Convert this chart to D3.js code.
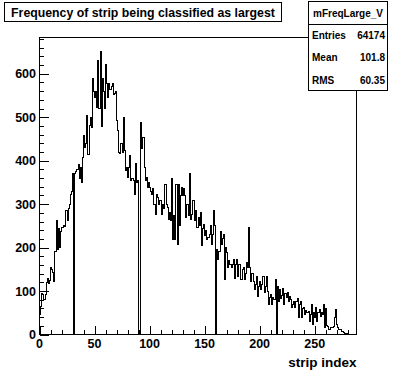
<!DOCTYPE html>
<html>
<head>
<meta charset="utf-8">
<script src="https://cdn.jsdelivr.net/npm/d3@7"></script>
<style>
  html, body { margin: 0; padding: 0; background: #fff; }
  svg { display: block; }
  text { font-family: "Liberation Sans", Arial, Helvetica, sans-serif; font-weight: bold; fill: #000; }
</style>
</head>
<body>
<svg id="chart" width="396" height="372"></svg>
<script>
// histogram contents, one value per strip (bins 0..287)
const stripValues = [
  45, 65, 95, 92, 80, 92, 120, 128, 118, 125,
  155, 150, 142, 123, 192, 262, 196, 245, 200, 238,
  246, 246, 250, 248, 285, 262, 290, 300, 322, 330,
  370, 0, 370, 375, 380, 392, 360, 385, 350, 408,
  458, 430, 440, 505, 415, 480, 500, 477, 590, 560,
  545, 560, 523, 630, 520, 651, 478, 590, 560, 520,
  622, 578, 545, 578, 565, 570, 578, 552, 555, 560,
  493, 470, 420, 416, 440, 418, 500, 424, 377, 385,
  362, 385, 412, 354, 360, 354, 323, 393, 350, 355,
  0, 0, 489, 427, 454, 385, 354, 362, 339, 350,
  339, 330, 323, 335, 300, 277, 323, 315, 300, 308,
  308, 277, 300, 290, 346, 300, 292, 265, 280, 262,
  358, 219, 273, 219, 346, 207, 346, 250, 320, 339,
  320, 335, 320, 270, 300, 275, 370, 265, 277, 308,
  308, 262, 285, 246, 270, 250, 281, 204, 245, 254,
  227, 240, 219, 223, 230, 250, 207, 230, 285, 250,
  0, 196, 173, 190, 238, 207, 220, 231, 127, 200,
  188, 154, 170, 161, 154, 160, 173, 130, 160, 173,
  134, 160, 161, 127, 150, 154, 127, 140, 165, 154,
  246, 154, 123, 140, 123, 103, 115, 134, 88, 110,
  123, 103, 115, 134, 96, 110, 134, 100, 69, 85,
  92, 69, 85, 80, 127, 0, 111, 76, 103, 84,
  90, 106, 69, 95, 85, 96, 76, 88, 80, 61,
  70, 76, 61, 75, 84, 38, 70, 76, 38, 60,
  61, 45, 55, 50, 53, 30, 45, 69, 22, 50,
  40, 61, 30, 50, 57, 42, 50, 45, 69, 15,
  60, 20, 18, 11, 15, 17, 17, 18, 40, 57,
  22, 15, 11, 11, 8, 6, 5, 3, 3, 3,
  2, 1, 1, 0, 0, 0, 0, 0
];

const xTicks = [0, 50, 100, 150, 200, 250];
const yTicks = [0, 100, 200, 300, 400, 500, 600];
const xMinorTicks = d3.range(0, 290, 10);
const yMinorTicks = d3.range(0, 700, 20);

const titleText = 'Frequency of strip being classified as largest';
const xTitle = 'strip index';
const statsName = 'mFreqLarge_V';
const statsRows = [['Entries', '64174'], ['Mean', '101.8'], ['RMS', '60.35']];

const svg = d3.select('#chart');

// frame (pad margins 0.1 on every side)
const frame = { left: 39.5, right: 356.5, top: 37.5, bottom: 334.5 };

const x = d3.scaleLinear().domain([0, stripValues.length]).range([frame.left, frame.right]);
const y = d3.scaleLinear().domain([0, d3.max(stripValues) * 1.05]).range([frame.bottom, frame.top]);

const g = svg.append('g').attr('shape-rendering', 'crispEdges');

// histogram outline
let path = `M${x(0)},${y(0)}`;
stripValues.forEach((v, i) => {
  path += `L${x(i)},${y(v)}L${x(i + 1)},${y(v)}`;
});
path += `L${x(stripValues.length)},${y(0)}`;
g.append('path')
  .attr('d', path)
  .attr('fill', 'none')
  .attr('stroke', '#000')
  .attr('stroke-width', 1);

// frame
g.append('rect')
  .attr('x', frame.left).attr('y', frame.top)
  .attr('width', frame.right - frame.left).attr('height', frame.bottom - frame.top)
  .attr('fill', 'none').attr('stroke', '#000');

// x axis ticks (inside, pointing up)
g.selectAll('.xminor').data(xMinorTicks).enter().append('line')
  .attr('x1', d => Math.round(x(d)) + 0.5).attr('x2', d => Math.round(x(d)) + 0.5)
  .attr('y1', frame.bottom).attr('y2', d => frame.bottom - (xTicks.includes(d) ? 9 : 4.5))
  .attr('stroke', '#000');

// y axis ticks (inside, pointing right)
g.selectAll('.yminor').data(yMinorTicks.filter(d => y(d) >= frame.top - 0.5)).enter().append('line')
  .attr('y1', d => Math.round(y(d)) + 0.5).attr('y2', d => Math.round(y(d)) + 0.5)
  .attr('x1', frame.left).attr('x2', d => frame.left + (yTicks.includes(d) ? 9.5 : 4.75))
  .attr('stroke', '#000');

// tick labels
svg.selectAll('.xlab').data(xTicks).enter().append('text')
  .attr('x', d => x(d)).attr('y', 348)
  .attr('text-anchor', 'middle')
  .attr('font-size', 12.5)
  .text(d => d);

svg.selectAll('.ylab').data(yTicks).enter().append('text')
  .attr('x', 36).attr('y', d => y(d) + 4.5)
  .attr('text-anchor', 'end')
  .attr('font-size', 12.5)
  .text(d => d);

// x axis title, right aligned to axis end
svg.append('text')
  .attr('x', frame.right).attr('y', 367)
  .attr('text-anchor', 'end')
  .attr('font-size', 13.5)
  .text(xTitle);

// title box
svg.append('rect')
  .attr('x', 4.5).attr('y', 2.5).attr('width', 277).attr('height', 19)
  .attr('fill', '#fff').attr('stroke', '#000').attr('shape-rendering', 'crispEdges');
svg.append('text')
  .attr('x', 143).attr('y', 16.5)
  .attr('text-anchor', 'middle')
  .attr('font-size', 12.3)
  .text(titleText);

// stats box
const stats = svg.append('g');
stats.append('rect')
  .attr('x', 308.5).attr('y', 1.5).attr('width', 79).attr('height', 89)
  .attr('fill', '#fff').attr('stroke', '#000').attr('shape-rendering', 'crispEdges');
stats.append('line')
  .attr('x1', 308.5).attr('x2', 387.5).attr('y1', 24.5).attr('y2', 24.5)
  .attr('stroke', '#000').attr('shape-rendering', 'crispEdges');
stats.append('text')
  .attr('x', 348).attr('y', 17)
  .attr('text-anchor', 'middle')
  .attr('font-size', 10)
  .text(statsName);
statsRows.forEach((row, i) => {
  const ty = 39 + i * 22.3;
  stats.append('text').attr('x', 312).attr('y', ty).attr('font-size', 10).text(row[0]);
  stats.append('text').attr('x', 385).attr('y', ty).attr('text-anchor', 'end').attr('font-size', 10).text(row[1]);
});
</script>
</body>
</html>
